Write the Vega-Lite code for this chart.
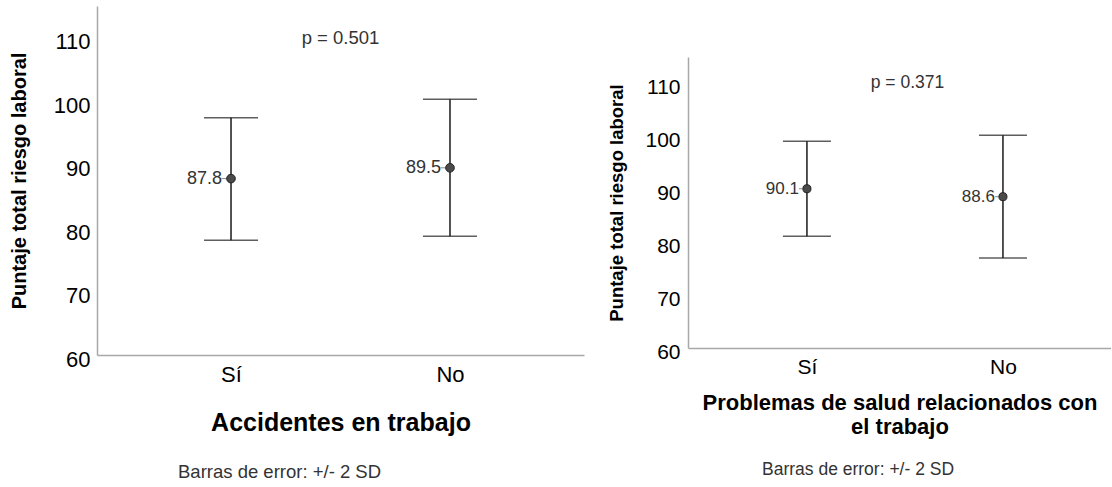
{
  "$schema": "https://vega.github.io/schema/vega-lite/v6.json",
  "background": "white",
  "padding": {"left": 9, "top": 6, "right": 0, "bottom": 0},
  "config": {
    "view": {"stroke": null},
    "font": "Liberation Sans",
    "axis": {
      "domainColor": "#a8a8a8",
      "domainWidth": 1.5,
      "ticks": false,
      "grid": false,
      "labelFont": "Liberation Sans",
      "titleFont": "Liberation Sans",
      "labelColor": "#000000",
      "titleColor": "#000000"
    },
    "title": {"font": "Liberation Sans", "fontWeight": "normal", "color": "#333333"}
  },
  "datasets": {
    "accidentes": [
      {"grupo": "Sí", "media": 87.8, "inf": 78.1, "sup": 97.4},
      {"grupo": "No", "media": 89.5, "inf": 78.7, "sup": 100.3}
    ],
    "salud": [
      {"grupo": "Sí", "media": 90.1, "inf": 81.1, "sup": 99.1},
      {"grupo": "No", "media": 88.6, "inf": 77.0, "sup": 100.2}
    ]
  },
  "spacing": 23,
  "hconcat": [
    {
      "width": 487,
      "height": 349,
      "data": {"name": "accidentes"},
      "title": {
        "text": "Barras de error: +/- 2 SD",
        "orient": "bottom",
        "anchor": "start",
        "frame": "group",
        "dx": 81,
        "offset": 28,
        "fontSize": 18.5
      },
      "layer": [
        {
          "mark": {"type": "rule", "color": "#1a1a1a", "strokeWidth": 1.5},
          "encoding": {
            "x": {
              "field": "grupo", "type": "nominal", "sort": ["Sí", "No"],
              "scale": {"type": "point", "padding": 0.612},
              "axis": {
                "title": "Accidentes en trabajo", "labelAngle": 0,
                "labelFontSize": 22, "labelPadding": 9,
                "titleFontSize": 25, "titleFontWeight": "bold", "titlePadding": 25
              }
            },
            "y": {
              "field": "inf", "type": "quantitative",
              "scale": {"domain": [60, 115], "nice": false, "zero": false},
              "axis": {
                "title": "Puntaje total riesgo laboral",
                "values": [60, 70, 80, 90, 100, 110],
                "labelFontSize": 22, "labelPadding": 7, "labelOffset": 4,
                "titleFontSize": 20, "titleFontWeight": "bold", "titlePadding": 24
              }
            },
            "y2": {"field": "sup"}
          }
        },
        {
          "mark": {"type": "tick", "color": "#1a1a1a", "size": 54, "thickness": 1.5},
          "encoding": {
            "x": {"field": "grupo", "type": "nominal", "sort": ["Sí", "No"]},
            "y": {"field": "inf", "type": "quantitative", "title": "Puntaje total riesgo laboral"}
          }
        },
        {
          "mark": {"type": "tick", "color": "#1a1a1a", "size": 54, "thickness": 1.5},
          "encoding": {
            "x": {"field": "grupo", "type": "nominal", "sort": ["Sí", "No"]},
            "y": {"field": "sup", "type": "quantitative", "title": "Puntaje total riesgo laboral"}
          }
        },
        {
          "mark": {"type": "tick", "color": "#555555", "size": 7, "thickness": 1, "xOffset": -6},
          "encoding": {
            "x": {"field": "grupo", "type": "nominal", "sort": ["Sí", "No"]},
            "y": {"field": "media", "type": "quantitative", "title": "Puntaje total riesgo laboral"}
          }
        },
        {
          "mark": {"type": "point", "filled": true, "size": 75, "color": "#4a4a4a", "stroke": "#222222", "strokeWidth": 1, "opacity": 1},
          "encoding": {
            "x": {"field": "grupo", "type": "nominal", "sort": ["Sí", "No"]},
            "y": {"field": "media", "type": "quantitative", "title": "Puntaje total riesgo laboral"}
          }
        },
        {
          "mark": {"type": "text", "align": "right", "baseline": "middle", "dx": -9, "fontSize": 18, "color": "#333333"},
          "encoding": {
            "x": {"field": "grupo", "type": "nominal", "sort": ["Sí", "No"]},
            "y": {"field": "media", "type": "quantitative", "title": "Puntaje total riesgo laboral"},
            "text": {"field": "media", "type": "quantitative", "format": ".1f"}
          }
        },
        {
          "data": {"values": [{"prueba": "p = 0.501"}]},
          "mark": {"type": "text", "align": "center", "baseline": "middle", "fontSize": 18.5, "color": "#333333"},
          "encoding": {
            "y": {"datum": 110, "type": "quantitative"},
            "text": {"field": "prueba", "type": "nominal"}
          }
        }
      ]
    },
    {
      "spacing": 0,
      "vconcat": [
        {
          "width": 1,
          "height": 51,
          "data": {"values": []},
          "mark": {"type": "point", "opacity": 0},
          "encoding": {}
        },
        {
          "width": 423,
          "height": 291,
          "data": {"name": "salud"},
          "title": {
            "text": "Barras de error: +/- 2 SD",
            "orient": "bottom",
            "anchor": "start",
            "frame": "group",
            "dx": 74,
            "offset": 24,
            "fontSize": 17.5
          },
          "layer": [
            {
              "mark": {"type": "rule", "color": "#1a1a1a", "strokeWidth": 1.5},
              "encoding": {
                "x": {
                  "field": "grupo", "type": "nominal", "sort": ["Sí", "No"],
                  "scale": {"type": "point", "padding": 0.579, "align": 0.524},
                  "axis": {
                    "title": ["Problemas de salud relacionados con", "el trabajo"],
                    "labelAngle": 0, "labelFontSize": 21, "labelPadding": 8,
                    "titleFontSize": 22, "titleFontWeight": "bold",
                    "titleLineHeight": 24, "titlePadding": 15
                  }
                },
                "y": {
                  "field": "inf", "type": "quantitative",
                  "scale": {"domain": [60, 115], "nice": false, "zero": false},
                  "axis": {
                    "title": "Puntaje total riesgo laboral",
                    "values": [60, 70, 80, 90, 100, 110],
                    "labelFontSize": 21, "labelPadding": 8, "labelOffset": 4,
                    "titleFontSize": 18.5, "titleFontWeight": "bold", "titlePadding": 18
                  }
                },
                "y2": {"field": "sup"}
              }
            },
            {
              "mark": {"type": "tick", "color": "#1a1a1a", "size": 48, "thickness": 1.5},
              "encoding": {
                "x": {"field": "grupo", "type": "nominal", "sort": ["Sí", "No"]},
                "y": {"field": "inf", "type": "quantitative", "title": "Puntaje total riesgo laboral"}
              }
            },
            {
              "mark": {"type": "tick", "color": "#1a1a1a", "size": 48, "thickness": 1.5},
              "encoding": {
                "x": {"field": "grupo", "type": "nominal", "sort": ["Sí", "No"]},
                "y": {"field": "sup", "type": "quantitative", "title": "Puntaje total riesgo laboral"}
              }
            },
            {
              "mark": {"type": "tick", "color": "#555555", "size": 6, "thickness": 1, "xOffset": -5},
              "encoding": {
                "x": {"field": "grupo", "type": "nominal", "sort": ["Sí", "No"]},
                "y": {"field": "media", "type": "quantitative", "title": "Puntaje total riesgo laboral"}
              }
            },
            {
              "mark": {"type": "point", "filled": true, "size": 65, "color": "#4a4a4a", "stroke": "#222222", "strokeWidth": 1, "opacity": 1},
              "encoding": {
                "x": {"field": "grupo", "type": "nominal", "sort": ["Sí", "No"]},
                "y": {"field": "media", "type": "quantitative", "title": "Puntaje total riesgo laboral"}
              }
            },
            {
              "mark": {"type": "text", "align": "right", "baseline": "middle", "dx": -8, "fontSize": 17, "color": "#333333"},
              "encoding": {
                "x": {"field": "grupo", "type": "nominal", "sort": ["Sí", "No"]},
                "y": {"field": "media", "type": "quantitative", "title": "Puntaje total riesgo laboral"},
                "text": {"field": "media", "type": "quantitative", "format": ".1f"}
              }
            },
            {
              "data": {"values": [{"prueba": "p = 0.371"}]},
              "mark": {"type": "text", "align": "center", "baseline": "middle", "dx": 8, "fontSize": 17.5, "color": "#333333"},
              "encoding": {
                "y": {"datum": 110, "type": "quantitative"},
                "text": {"field": "prueba", "type": "nominal"}
              }
            }
          ]
        }
      ]
    }
  ]
}
